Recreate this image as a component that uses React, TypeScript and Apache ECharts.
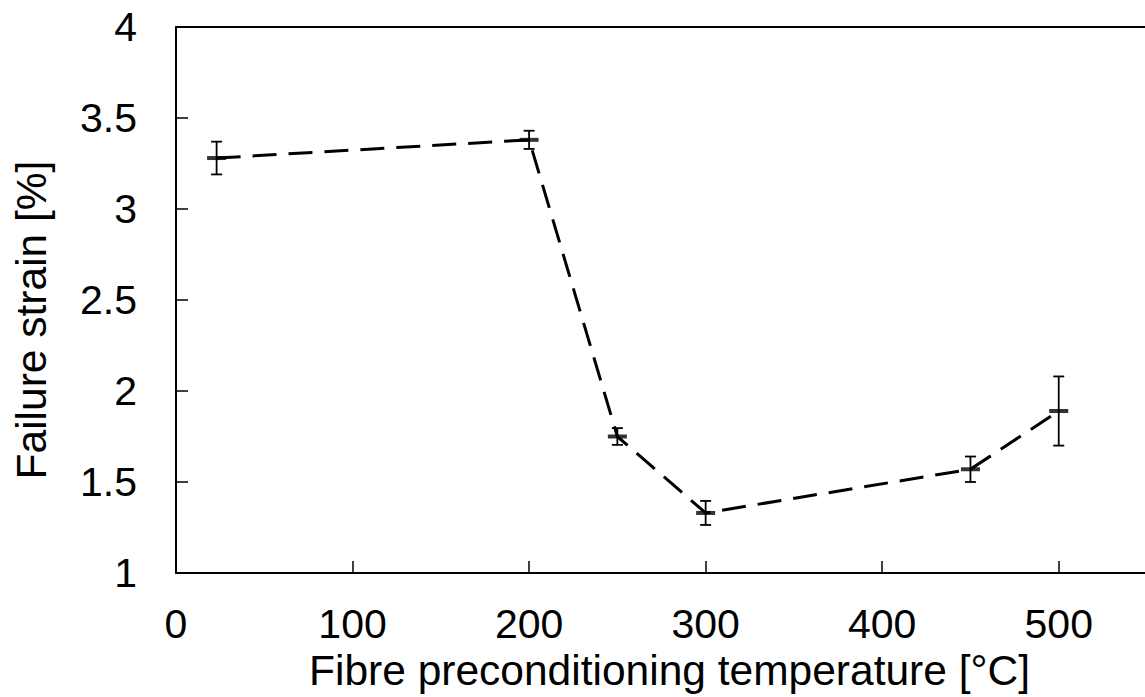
import React, { useEffect, useRef } from "react";
import * as echarts from "echarts";

const temperatures = [23, 200, 250, 300, 450, 500];
const failureStrain = [3.28, 3.38, 1.75, 1.33, 1.57, 1.89];
const strainError = [0.09, 0.05, 0.046, 0.066, 0.07, 0.19];
const xTicks = [0, 100, 200, 300, 400, 500];
const yTicks = [1, 1.5, 2, 2.5, 3, 3.5, 4];

const FONT = "'Liberation Sans', Arial, Helvetica, sans-serif";

export default function App() {
  const ref = useRef<HTMLDivElement>(null);
  useEffect(() => {
    document.body.style.margin = "0";
    document.body.style.overflow = "hidden";
    const chart = echarts.init(ref.current!, null, { renderer: "svg" });
    const lineData = temperatures.map((t, i) => [t, failureStrain[i]]);
    const errData = temperatures.map((t, i) => [t, failureStrain[i] - strainError[i], failureStrain[i] + strainError[i]]);
    chart.setOption({
      animation: false,
      backgroundColor: "#ffffff",
      grid: {
        left: 176,
        top: 27,
        width: 971,
        height: 546,
        show: false,
      },
      xAxis: [
        {
          type: "value",
          min: xTicks[0],
          max: 550,
          interval: 100,
          name: "Fibre preconditioning temperature [°C]",
          nameLocation: "middle",
          nameGap: 75,
          nameTextStyle: { fontFamily: FONT, fontSize: 42.5, color: "#000", padding: [0, 0, 0, 16] },
          axisLine: { show: true, lineStyle: { color: "#000", width: 2 } },
          axisTick: { show: true, inside: true, length: 12, lineStyle: { color: "#000", width: 1.5 } },
          axisLabel: { fontFamily: FONT, fontSize: 41, color: "#000", margin: 30, showMaxLabel: false },
          splitLine: { show: false },
        },
        {
          type: "value",
          position: "top",
          min: xTicks[0],
          max: 550,
          interval: 100,
          axisLine: { show: true, lineStyle: { color: "#000", width: 2 } },
          axisTick: { show: false },
          axisLabel: { show: false },
          splitLine: { show: false },
        },
      ],
      yAxis: {
        type: "value",
        min: yTicks[0],
        max: yTicks[yTicks.length - 1],
        interval: 0.5,
        name: "Failure strain [%]",
        nameLocation: "middle",
        nameGap: 123,
        nameTextStyle: { fontFamily: FONT, fontSize: 42.5, color: "#000", padding: [0, 40, 0, 0] },
        axisLine: { show: true, lineStyle: { color: "#000", width: 2 } },
        axisTick: { show: true, inside: true, length: 12, lineStyle: { color: "#000", width: 1.5 } },
        axisLabel: { fontFamily: FONT, fontSize: 41, color: "#000", margin: 39 },
        splitLine: { show: false },
      },
      series: [
        {
          type: "line",
          data: lineData,
          symbol: "none",
          lineStyle: { color: "#000", width: 3, type: [24, 12] },
          z: 2,
        },
        {
          type: "custom",
          data: errData,
          z: 3,
          renderItem: (params: any, api: any) => {
            const x = api.value(0);
            const lo = api.coord([x, api.value(1)]);
            const hi = api.coord([x, api.value(2)]);
            const cap = 5.5;
            const st = { stroke: "#000", lineWidth: 1.8 };
            return {
              type: "group",
              children: [
                { type: "line", shape: { x1: lo[0], y1: lo[1], x2: hi[0], y2: hi[1] }, style: st },
                { type: "line", shape: { x1: lo[0] - cap, y1: lo[1], x2: lo[0] + cap, y2: lo[1] }, style: st },
                { type: "line", shape: { x1: hi[0] - cap, y1: hi[1], x2: hi[0] + cap, y2: hi[1] }, style: st },
              ],
            };
          },
        },
        {
          type: "scatter",
          data: lineData,
          symbol: "rect",
          symbolSize: [19, 4],
          itemStyle: { color: "#000" },
          z: 4,
        },
      ],
    });
    return () => chart.dispose();
  }, []);
  return (
    <div style={{ width: 1145, height: 697, overflow: "hidden" }}>
      <div ref={ref} style={{ width: 1165, height: 697 }} />
    </div>
  );
}
